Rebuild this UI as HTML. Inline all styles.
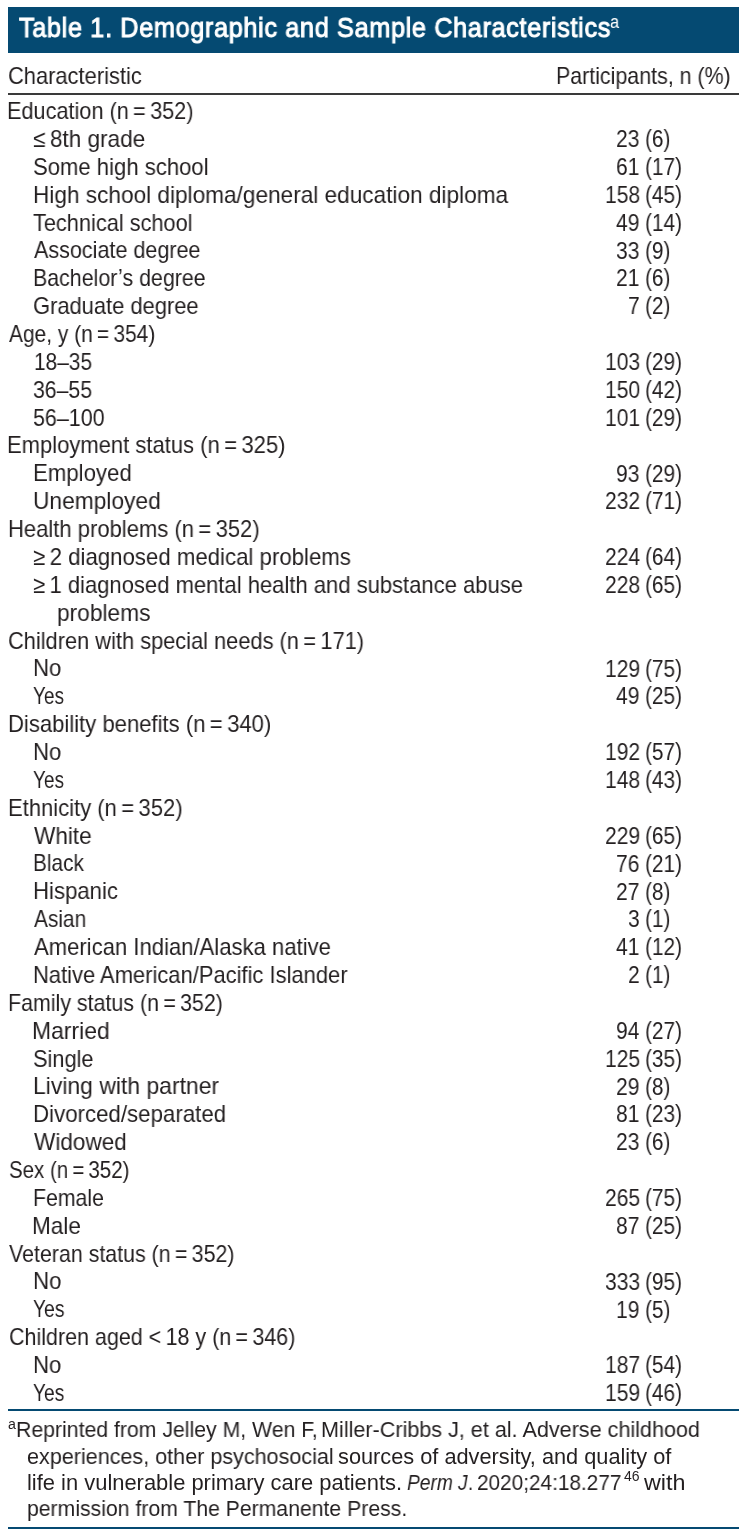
<!DOCTYPE html>
<html><head><meta charset="utf-8"><title>Table 1. Demographic and Sample Characteristics</title>
<style>
html,body{margin:0;padding:0;background:#fff;}
body{width:746px;height:1536px;position:relative;overflow:hidden;font-family:'Liberation Sans', sans-serif;color:#231f20;}
div{position:absolute;white-space:nowrap;transform-origin:0 0;will-change:transform;}
.t{font-size:24.0px;line-height:24.0px;}
.n{font-size:23.3px;line-height:23.3px;}
.bar{left:8px;top:7px;width:731px;height:46px;background:#054a72;}
.title{color:#fff;font-weight:normal;-webkit-text-stroke:1.0px #fff;letter-spacing:0.7px;}
.rule{left:8px;width:731px;}
.sup{position:relative;}
</style></head><body>

<div class="bar"></div>
<div class="title" style="left:18.90px;top:14.04px;font-size:27.6px;line-height:27.6px;transform:scaleX(0.9157)">Table 1. Demographic and Sample Characteristics</div>
<div style="color:#fff;left:610.09px;top:12.60px;font-size:18px;line-height:18px;transform:scaleX(0.9111)">a</div>
<div class="t" style="left:8.09px;top:63.98px;transform:scaleX(0.9117)">Characteristic</div>
<div class="t" style="left:556.12px;top:63.98px;transform:scaleX(0.8907)">Participants, n (%)</div>
<div class="rule" style="top:93px;height:2px;background:#3a3a3a"></div>
<div class="t" style="left:7.29px;top:99.03px;transform:scaleX(0.9034)">Education (n&#8201;=&#8201;352)</div>
<div class="t" style="left:33.26px;top:126.90px;transform:scaleX(0.9402)">&#8804;&#8201;8th grade</div>
<div class="t" style="left:32.88px;top:154.77px;transform:scaleX(0.9202)">Some high school</div>
<div class="t" style="left:33.02px;top:182.64px;transform:scaleX(0.9420)">High school diploma/general education diploma</div>
<div class="t" style="left:33.30px;top:210.51px;transform:scaleX(0.9057)">Technical school</div>
<div class="t" style="left:33.80px;top:238.37px;transform:scaleX(0.8978)">Associate degree</div>
<div class="t" style="left:33.12px;top:266.24px;transform:scaleX(0.8901)">Bachelor&#8217;s degree</div>
<div class="t" style="left:33.09px;top:294.11px;transform:scaleX(0.9128)">Graduate degree</div>
<div class="t" style="left:9.10px;top:321.98px;transform:scaleX(0.8723)">Age, y (n&#8201;=&#8201;354)</div>
<div class="t" style="left:34.36px;top:349.85px;transform:scaleX(0.8688)">18&#8211;35</div>
<div class="t" style="left:33.32px;top:377.71px;transform:scaleX(0.8846)">36&#8211;55</div>
<div class="t" style="left:33.31px;top:405.58px;transform:scaleX(0.8936)">56&#8211;100</div>
<div class="t" style="left:7.27px;top:433.45px;transform:scaleX(0.9167)">Employment status (n&#8201;=&#8201;325)</div>
<div class="t" style="left:33.05px;top:461.32px;transform:scaleX(0.9252)">Employed</div>
<div class="t" style="left:33.00px;top:489.19px;transform:scaleX(0.9481)">Unemployed</div>
<div class="t" style="left:7.57px;top:517.05px;transform:scaleX(0.9170)">Health problems (n&#8201;=&#8201;352)</div>
<div class="t" style="left:33.27px;top:544.92px;transform:scaleX(0.9254)">&#8805;&#8201;2 diagnosed medical problems</div>
<div class="t" style="left:33.28px;top:572.79px;transform:scaleX(0.9169)">&#8805;&#8201;1 diagnosed mental health and substance abuse</div>
<div class="t" style="left:57.41px;top:600.66px;transform:scaleX(0.9469)">problems</div>
<div class="t" style="left:8.19px;top:628.53px;transform:scaleX(0.9087)">Children with special needs (n&#8201;=&#8201;171)</div>
<div class="t" style="left:33.05px;top:656.39px;transform:scaleX(0.9250)">No</div>
<div class="t" style="left:33.41px;top:684.26px;transform:scaleX(0.7921)">Yes</div>
<div class="t" style="left:7.56px;top:712.13px;transform:scaleX(0.9191)">Disability benefits (n&#8201;=&#8201;340)</div>
<div class="t" style="left:33.05px;top:740.00px;transform:scaleX(0.9250)">No</div>
<div class="t" style="left:33.41px;top:767.87px;transform:scaleX(0.7921)">Yes</div>
<div class="t" style="left:7.57px;top:795.73px;transform:scaleX(0.9171)">Ethnicity (n&#8201;=&#8201;352)</div>
<div class="t" style="left:33.60px;top:823.60px;transform:scaleX(0.9400)">White</div>
<div class="t" style="left:33.17px;top:851.47px;transform:scaleX(0.8667)">Black</div>
<div class="t" style="left:33.05px;top:879.34px;transform:scaleX(0.9236)">Hispanic</div>
<div class="t" style="left:33.80px;top:907.21px;transform:scaleX(0.8695)">Asian</div>
<div class="t" style="left:33.80px;top:935.07px;transform:scaleX(0.9196)">American Indian/Alaska native</div>
<div class="t" style="left:33.07px;top:962.94px;transform:scaleX(0.9140)">Native American/Pacific Islander</div>
<div class="t" style="left:8.12px;top:990.81px;transform:scaleX(0.8916)">Family status (n&#8201;=&#8201;352)</div>
<div class="t" style="left:32.29px;top:1018.68px;transform:scaleX(0.9551)">Married</div>
<div class="t" style="left:33.09px;top:1046.55px;transform:scaleX(0.9077)">Single</div>
<div class="t" style="left:32.99px;top:1074.41px;transform:scaleX(0.9554)">Living with partner</div>
<div class="t" style="left:33.04px;top:1102.28px;transform:scaleX(0.9278)">Divorced/separated</div>
<div class="t" style="left:33.60px;top:1130.15px;transform:scaleX(0.9402)">Widowed</div>
<div class="t" style="left:8.55px;top:1158.02px;transform:scaleX(0.8540)">Sex (n&#8201;=&#8201;352)</div>
<div class="t" style="left:33.13px;top:1185.89px;transform:scaleX(0.8857)">Female</div>
<div class="t" style="left:32.32px;top:1213.75px;transform:scaleX(0.9388)">Male</div>
<div class="t" style="left:8.90px;top:1241.62px;transform:scaleX(0.8909)">Veteran status (n&#8201;=&#8201;352)</div>
<div class="t" style="left:33.04px;top:1269.49px;transform:scaleX(0.9321)">No</div>
<div class="t" style="left:33.40px;top:1297.36px;transform:scaleX(0.8026)">Yes</div>
<div class="t" style="left:8.51px;top:1325.23px;transform:scaleX(0.8950)">Children aged &lt;&#8201;18 y (n&#8201;=&#8201;346)</div>
<div class="t" style="left:33.05px;top:1353.09px;transform:scaleX(0.9250)">No</div>
<div class="t" style="left:33.40px;top:1380.96px;transform:scaleX(0.7974)">Yes</div>
<div class="n" style="left:616.47px;top:128.09px;transform:scaleX(0.9013)">23</div>
<div class="n" style="left:645.11px;top:128.09px;transform:scaleX(0.8910)">(6)</div>
<div class="n" style="left:616.47px;top:155.96px;transform:scaleX(0.9013)">61</div>
<div class="n" style="left:645.11px;top:155.96px;transform:scaleX(0.8910)">(17)</div>
<div class="n" style="left:604.75px;top:183.83px;transform:scaleX(0.9013)">158</div>
<div class="n" style="left:645.11px;top:183.83px;transform:scaleX(0.8910)">(45)</div>
<div class="n" style="left:616.47px;top:211.70px;transform:scaleX(0.9013)">49</div>
<div class="n" style="left:645.11px;top:211.70px;transform:scaleX(0.8910)">(14)</div>
<div class="n" style="left:616.47px;top:239.57px;transform:scaleX(0.9013)">33</div>
<div class="n" style="left:645.11px;top:239.57px;transform:scaleX(0.8910)">(9)</div>
<div class="n" style="left:616.47px;top:267.43px;transform:scaleX(0.9013)">21</div>
<div class="n" style="left:645.11px;top:267.43px;transform:scaleX(0.8910)">(6)</div>
<div class="n" style="left:628.18px;top:295.30px;transform:scaleX(0.9013)">7</div>
<div class="n" style="left:645.11px;top:295.30px;transform:scaleX(0.8910)">(2)</div>
<div class="n" style="left:604.75px;top:351.04px;transform:scaleX(0.9013)">103</div>
<div class="n" style="left:645.11px;top:351.04px;transform:scaleX(0.8910)">(29)</div>
<div class="n" style="left:604.75px;top:378.91px;transform:scaleX(0.9013)">150</div>
<div class="n" style="left:645.11px;top:378.91px;transform:scaleX(0.8910)">(42)</div>
<div class="n" style="left:604.75px;top:406.77px;transform:scaleX(0.9013)">101</div>
<div class="n" style="left:645.11px;top:406.77px;transform:scaleX(0.8910)">(29)</div>
<div class="n" style="left:616.47px;top:462.51px;transform:scaleX(0.9013)">93</div>
<div class="n" style="left:645.11px;top:462.51px;transform:scaleX(0.8910)">(29)</div>
<div class="n" style="left:604.75px;top:490.38px;transform:scaleX(0.9013)">232</div>
<div class="n" style="left:645.11px;top:490.38px;transform:scaleX(0.8910)">(71)</div>
<div class="n" style="left:604.75px;top:546.11px;transform:scaleX(0.9013)">224</div>
<div class="n" style="left:645.11px;top:546.11px;transform:scaleX(0.8910)">(64)</div>
<div class="n" style="left:604.75px;top:573.98px;transform:scaleX(0.9013)">228</div>
<div class="n" style="left:645.11px;top:573.98px;transform:scaleX(0.8910)">(65)</div>
<div class="n" style="left:604.75px;top:657.59px;transform:scaleX(0.9013)">129</div>
<div class="n" style="left:645.11px;top:657.59px;transform:scaleX(0.8910)">(75)</div>
<div class="n" style="left:616.47px;top:685.45px;transform:scaleX(0.9013)">49</div>
<div class="n" style="left:645.11px;top:685.45px;transform:scaleX(0.8910)">(25)</div>
<div class="n" style="left:604.75px;top:741.19px;transform:scaleX(0.9013)">192</div>
<div class="n" style="left:645.11px;top:741.19px;transform:scaleX(0.8910)">(57)</div>
<div class="n" style="left:604.75px;top:769.06px;transform:scaleX(0.9013)">148</div>
<div class="n" style="left:645.11px;top:769.06px;transform:scaleX(0.8910)">(43)</div>
<div class="n" style="left:604.75px;top:824.79px;transform:scaleX(0.9013)">229</div>
<div class="n" style="left:645.11px;top:824.79px;transform:scaleX(0.8910)">(65)</div>
<div class="n" style="left:616.47px;top:852.66px;transform:scaleX(0.9013)">76</div>
<div class="n" style="left:645.11px;top:852.66px;transform:scaleX(0.8910)">(21)</div>
<div class="n" style="left:616.47px;top:880.53px;transform:scaleX(0.9013)">27</div>
<div class="n" style="left:645.11px;top:880.53px;transform:scaleX(0.8910)">(8)</div>
<div class="n" style="left:628.18px;top:908.40px;transform:scaleX(0.9013)">3</div>
<div class="n" style="left:645.11px;top:908.40px;transform:scaleX(0.8910)">(1)</div>
<div class="n" style="left:616.47px;top:936.27px;transform:scaleX(0.9013)">41</div>
<div class="n" style="left:645.11px;top:936.27px;transform:scaleX(0.8910)">(12)</div>
<div class="n" style="left:628.18px;top:964.13px;transform:scaleX(0.9013)">2</div>
<div class="n" style="left:645.11px;top:964.13px;transform:scaleX(0.8910)">(1)</div>
<div class="n" style="left:616.47px;top:1019.87px;transform:scaleX(0.9013)">94</div>
<div class="n" style="left:645.11px;top:1019.87px;transform:scaleX(0.8910)">(27)</div>
<div class="n" style="left:604.75px;top:1047.74px;transform:scaleX(0.9013)">125</div>
<div class="n" style="left:645.11px;top:1047.74px;transform:scaleX(0.8910)">(35)</div>
<div class="n" style="left:616.47px;top:1075.61px;transform:scaleX(0.9013)">29</div>
<div class="n" style="left:645.11px;top:1075.61px;transform:scaleX(0.8910)">(8)</div>
<div class="n" style="left:616.47px;top:1103.47px;transform:scaleX(0.9013)">81</div>
<div class="n" style="left:645.11px;top:1103.47px;transform:scaleX(0.8910)">(23)</div>
<div class="n" style="left:616.47px;top:1131.34px;transform:scaleX(0.9013)">23</div>
<div class="n" style="left:645.11px;top:1131.34px;transform:scaleX(0.8910)">(6)</div>
<div class="n" style="left:604.75px;top:1187.08px;transform:scaleX(0.9013)">265</div>
<div class="n" style="left:645.11px;top:1187.08px;transform:scaleX(0.8910)">(75)</div>
<div class="n" style="left:616.47px;top:1214.95px;transform:scaleX(0.9013)">87</div>
<div class="n" style="left:645.11px;top:1214.95px;transform:scaleX(0.8910)">(25)</div>
<div class="n" style="left:604.75px;top:1270.68px;transform:scaleX(0.9013)">333</div>
<div class="n" style="left:645.11px;top:1270.68px;transform:scaleX(0.8910)">(95)</div>
<div class="n" style="left:616.47px;top:1298.55px;transform:scaleX(0.9013)">19</div>
<div class="n" style="left:645.11px;top:1298.55px;transform:scaleX(0.8910)">(5)</div>
<div class="n" style="left:604.75px;top:1354.29px;transform:scaleX(0.9013)">187</div>
<div class="n" style="left:645.11px;top:1354.29px;transform:scaleX(0.8910)">(54)</div>
<div class="n" style="left:604.75px;top:1382.15px;transform:scaleX(0.9013)">159</div>
<div class="n" style="left:645.11px;top:1382.15px;transform:scaleX(0.8910)">(46)</div>
<div class="rule" style="top:1409px;height:2px;background:#054a72"></div>
<div style="left:16.14px;top:1418.93px;font-size:21.7px;line-height:21.7px;transform:scaleX(0.9793)">Reprinted from Jelley M, Wen F,</div>
<div style="left:321.21px;top:1418.93px;font-size:21.7px;line-height:21.7px;transform:scaleX(0.9950)">Miller-Cribbs J, et al. Adverse childhood</div>
<div style="left:26.51px;top:1445.53px;font-size:21.7px;line-height:21.7px;transform:scaleX(0.9938)">experiences, other psychosocial</div>
<div style="left:338.00px;top:1445.53px;font-size:21.7px;line-height:21.7px;transform:scaleX(1.0030)">sources of adversity, and quality of</div>
<div style="left:27.19px;top:1471.83px;font-size:21.7px;line-height:21.7px;transform:scaleX(1.0103)">life in vulnerable primary care patients.</div>
<div style="left:406.52px;top:1471.83px;font-size:21.7px;line-height:21.7px;transform:scaleX(0.8847)"><i>Perm J</i>.</div>
<div style="left:476.84px;top:1471.83px;font-size:21.7px;line-height:21.7px;transform:scaleX(0.9577)">2020;24:18.277</div>
<div style="left:644.30px;top:1471.83px;font-size:21.7px;line-height:21.7px;transform:scaleX(1.0757)">with</div>
<div style="left:27.22px;top:1497.63px;font-size:21.7px;line-height:21.7px;transform:scaleX(0.9775)">permission from The Permanente Press.</div>
<div style="left:7.69px;top:1416.60px;font-size:14.0px;line-height:14.0px;transform:scaleX(1.0143)">a</div>
<div style="left:623.80px;top:1469.10px;font-size:14.0px;line-height:14.0px;transform:scaleX(0.9867)">46</div>
<div class="rule" style="top:1527px;height:2px;background:#054a72"></div>
</body></html>
